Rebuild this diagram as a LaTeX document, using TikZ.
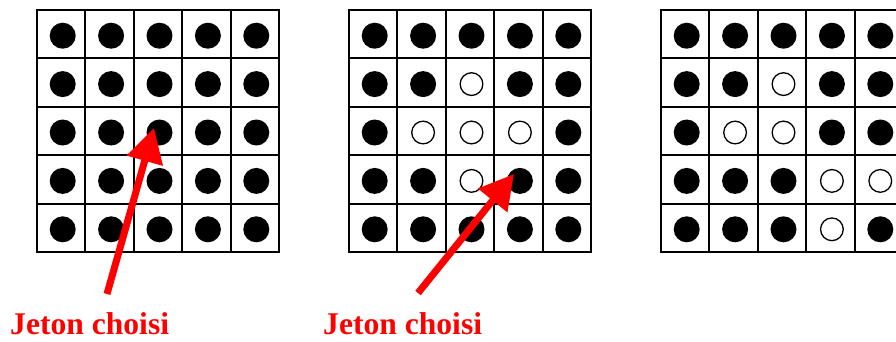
\documentclass[tikz,border=0pt]{standalone}
\usepackage{fontspec}
\setmainfont{Liberation Serif}
\usetikzlibrary{arrows.meta}
\definecolor{jred}{RGB}{255,0,0}
\tikzset{
  cellbox/.style={draw=black, line width=1.9pt},
  full/.style={circle, fill=black, minimum size=26pt, inner sep=0pt},
  empty/.style={circle, draw=black, fill=white, line width=1.3pt, minimum size=22.7pt, inner sep=0pt},
  pointer/.style={draw=jred, line width=7pt, -{Triangle[length=34pt,width=36pt]}},
  caption/.style={text=jred, font=\bfseries\fontsize{31.6}{36}\selectfont, anchor=base west, inner sep=0pt}
}
\begin{document}
\begin{tikzpicture}[x=1pt,y=-1pt]
\useasboundingbox (0,0) rectangle (896,341);
\clip (0,0) rectangle (896,341);
\def\cs{48.4}
% grids: origin x, pattern rows (1 = filled, 0 = empty)
\foreach \g/\gx/\pat in {
  a/37/{1,1,1,1,1, 1,1,1,1,1, 1,1,1,1,1, 1,1,1,1,1, 1,1,1,1,1},
  b/349/{1,1,1,1,1, 1,1,0,1,1, 1,0,0,0,1, 1,1,0,1,1, 1,1,1,1,1},
  c/661/{1,1,1,1,1, 1,1,0,1,1, 1,0,0,1,1, 1,1,1,0,0, 1,1,1,0,1}}{
  \foreach \v [count=\k from 0] in \pat {
    \pgfmathtruncatemacro{\r}{int(\k/5)}
    \pgfmathtruncatemacro{\c}{mod(\k,5)}
    \draw[cellbox] ({\gx+\c*\cs},{10+\r*\cs}) rectangle ++(\cs,\cs);
    \ifnum\v=1
      \node[full] (\g-\r-\c) at ({\gx+\c*\cs+\cs/2+1.5},{10+\r*\cs+\cs/2+1.5}) {};
    \else
      \node[empty] (\g-\r-\c) at ({\gx+\c*\cs+\cs/2+1.5},{10+\r*\cs+\cs/2+1.5}) {};
    \fi
  }
}
\coordinate (t1) at (107,294);
\coordinate (h1) at (154,128);
\coordinate (t2) at (418,293);
\coordinate (h2) at (514,174);
\draw[pointer] (t1) -- (h1);
\draw[pointer] (t2) -- (h2);
\node[caption] (cap1) at (10,334) {Jeton choisi};
\node[caption] (cap2) at (323,334) {Jeton choisi};
\end{tikzpicture}
\end{document}
